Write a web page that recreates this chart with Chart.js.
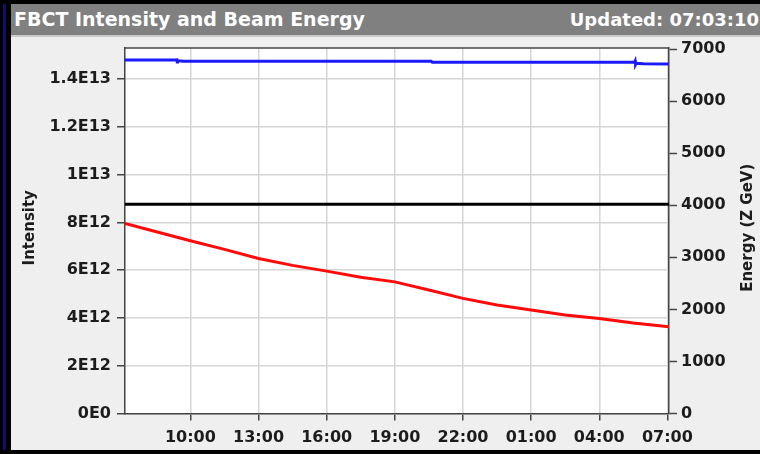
<!DOCTYPE html>
<html>
<head>
<meta charset="utf-8">
<script src="https://cdn.jsdelivr.net/npm/chart.js@4.4.1/dist/chart.umd.min.js"></script>
<style>
  html, body { margin: 0; padding: 0; background: #000; width: 760px; height: 454px; overflow: hidden; }
  #edge { position: absolute; left: 3px; top: 4px; width: 3px; height: 446px; background: #10106a; }
  #bar { position: absolute; left: 11px; top: 4px; width: 749px; height: 31px; background: #808080;
         border-bottom: 2px solid #c9c9c9; font-family: "DejaVu Sans", sans-serif; font-weight: bold; color: #fff; }
  #bar .t { position: absolute; left: 3px; top: 4px; font-size: 19px; }
  #bar .u { position: absolute; right: 1px; top: 5px; font-size: 18px; }
  #panel { position: absolute; left: 11px; top: 37px; width: 749px; height: 413px; background: #efefef; }
  #panel canvas { position: absolute; left: 0; top: 0; }
</style>
</head>
<body>
<div id="edge"></div>
<div id="bar"><span class="t">FBCT Intensity and Beam Energy</span><span class="u">Updated: 07:03:10</span></div>
<div id="panel"><canvas id="c" width="749" height="413"></canvas></div>
<script>
// Time axis in hours counted from midnight of the first day
const timeMin = 7.12;
const timeMax = 31.07;
const timeTicks = [10, 13, 16, 19, 22, 25, 28, 31];
const timeTickLabels = ["10:00", "13:00", "16:00", "19:00", "22:00", "01:00", "04:00", "07:00"];

// Left axis: intensity (charges)
const intensityTicks = [0, 2e12, 4e12, 6e12, 8e12, 1e13, 1.2e13, 1.4e13];
const intensityTickLabels = ["0E0", "2E12", "4E12", "6E12", "8E12", "1E13", "1.2E13", "1.4E13"];

// Right axis: energy in Z GeV
const energyTicks = [0, 1000, 2000, 3000, 4000, 5000, 6000, 7000];
const energyTickLabels = ["0", "1000", "2000", "3000", "4000", "5000", "6000", "7000"];

// Beam 1 intensity
const beam1Hours = [7.12, 9.38, 9.40, 9.42, 9.44, 9.62, 9.64, 20.60, 20.65, 29.55, 29.58, 29.60, 29.63, 29.95, 31.07];
const beam1Intensity = [1.480e13, 1.480e13, 1.486e13, 1.471e13, 1.478e13, 1.476e13, 1.475e13, 1.475e13, 1.470e13,
                        1.470e13, 1.476e13, 1.461e13, 1.466e13, 1.464e13, 1.463e13];

// Beam 2 intensity
const beam2Hours = [7.12, 8.5, 10, 11.5, 13, 14.5, 16, 17.5, 19, 20.5, 22, 23.5, 25, 26.5, 28, 29.5, 31.07];
const beam2Intensity = [7.96e12, 7.61e12, 7.23e12, 6.87e12, 6.49e12, 6.20e12, 5.96e12, 5.70e12, 5.51e12,
                        5.17e12, 4.82e12, 4.54e12, 4.33e12, 4.12e12, 3.98e12, 3.79e12, 3.63e12];

// Beam energy
const energyHours = [7.12, 31.07];
const energyValues = [4020, 4020];

const toPoints = (xs, ys) => xs.map((x, i) => ({ x: x, y: ys[i] }));

const tickFont = { family: "DejaVu Sans", weight: "bold", size: 16 };
const axisColor = "#454545";
const gridColor = "#d6d6d6";
const labelColor = "#1c1c1c";

function drawVerticalTitle(g, text, x, y) {
  g.save();
  g.fillStyle = labelColor;
  g.font = 'bold 15px "DejaVu Sans"';
  g.textAlign = "center";
  g.textBaseline = "middle";
  g.translate(x, y);
  g.rotate(-Math.PI / 2);
  g.fillText(text, 0, 0);
  g.restore();
}

const plotFrame = {
  id: "plotFrame",
  beforeDraw(chart) {
    const a = chart.chartArea, g = chart.ctx;
    g.save();
    g.fillStyle = "#ffffff";
    g.fillRect(a.left, a.top, a.right - a.left, a.bottom - a.top);
    g.restore();
  },
  afterDraw(chart) {
    const a = chart.chartArea, g = chart.ctx;
    g.save();
    g.strokeStyle = axisColor;
    g.lineWidth = 1.5;
    g.beginPath();
    g.moveTo(a.left, a.top);
    g.lineTo(a.right, a.top);
    g.stroke();
    g.restore();
    const cy = (a.top + a.bottom) / 2 - 3;
    drawVerticalTitle(g, "Intensity", 19, cy);
    drawVerticalTitle(g, "Energy (Z GeV)", 737, cy);
  }
};

const noPadY = s => { s.paddingTop = 0; s.paddingBottom = 0; };

new Chart(document.getElementById("c"), {
  type: "line",
  data: {
    datasets: [
      { label: "Energy", data: toPoints(energyHours, energyValues), yAxisID: "yE",
        borderColor: "#000000", borderWidth: 3, pointRadius: 0, tension: 0 },
      { label: "Beam 2", data: toPoints(beam2Hours, beam2Intensity), yAxisID: "yI",
        borderColor: "#ff0a0a", borderWidth: 3, pointRadius: 0, tension: 0 },
      { label: "Beam 1", data: toPoints(beam1Hours, beam1Intensity), yAxisID: "yI",
        borderColor: "#1a1aff", borderWidth: 3, pointRadius: 0, tension: 0 }
    ]
  },
  options: {
    responsive: false,
    animation: false,
    devicePixelRatio: 1,
    layout: { padding: { top: 11, left: 0, right: 0, bottom: 0 } },
    plugins: { legend: { display: false }, tooltip: { enabled: false } },
    scales: {
      x: {
        type: "linear", min: timeMin, max: timeMax,
        afterBuildTicks: s => { s.ticks = timeTicks.map(v => ({ value: v })); },
        afterFit: s => { s.height = 36.5; s.paddingLeft = 0; s.paddingRight = 0; },
        ticks: { callback: (v, i) => timeTickLabels[i], font: tickFont, color: labelColor,
                 padding: 8, autoSkip: false, maxRotation: 0 },
        grid: { color: gridColor, lineWidth: 1.5, tickLength: 7, tickColor: axisColor, tickWidth: 1.5 },
        border: { color: axisColor, width: 1.5 }
      },
      yI: {
        type: "linear", position: "left", min: 0, max: 1.53e13,
        afterBuildTicks: s => { s.ticks = intensityTicks.map(v => ({ value: v })); },
        afterFit: s => { s.width = 114; noPadY(s); },
        ticks: { callback: (v, i) => intensityTickLabels[i], font: tickFont, color: labelColor, padding: 6 },
        grid: { color: gridColor, lineWidth: 1.5, tickLength: 8, tickColor: axisColor, tickWidth: 1.5 },
        border: { color: axisColor, width: 1.5 }
      },
      yE: {
        type: "linear", position: "right", min: 0, max: 7020,
        afterBuildTicks: s => { s.ticks = energyTicks.map(v => ({ value: v })); },
        afterFit: s => { s.width = 91; noPadY(s); },
        ticks: { callback: (v, i) => energyTickLabels[i], font: tickFont, color: labelColor, padding: 4 },
        grid: { drawOnChartArea: false, tickLength: 8, tickColor: axisColor, tickWidth: 1.5 },
        border: { color: axisColor, width: 1.5 }
      }
    }
  },
  plugins: [plotFrame]
});
</script>
</body>
</html>
